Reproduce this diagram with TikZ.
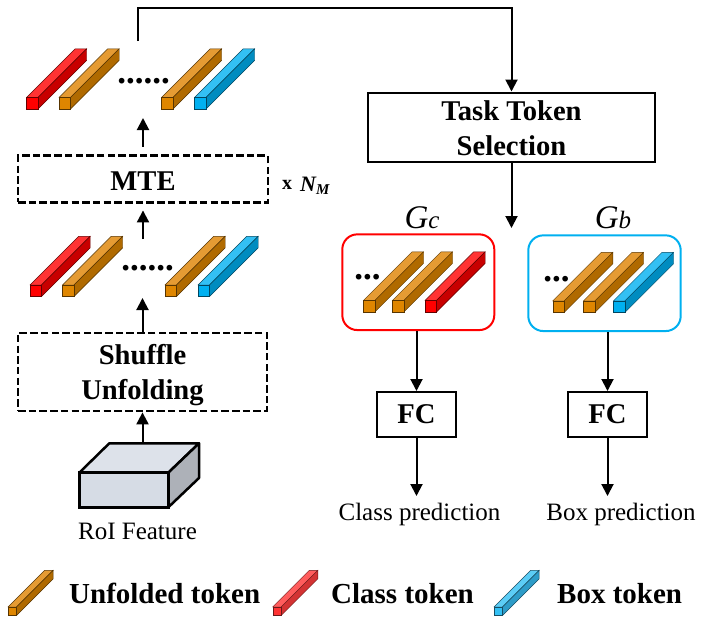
\documentclass[tikz,border=0pt]{standalone}
\usepackage{fontspec}
\setmainfont{Liberation Serif}
\usetikzlibrary{arrows.meta}

\definecolor{orangefront}{HTML}{DF8600}
\definecolor{orangetop}{HTML}{E59B33}
\definecolor{orangeside}{HTML}{B06A00}
\definecolor{redfront}{HTML}{FF0000}
\definecolor{redtop}{HTML}{FF3333}
\definecolor{redside}{HTML}{C80000}
\definecolor{bluefront}{HTML}{00B0F0}
\definecolor{bluetop}{HTML}{33C0F4}
\definecolor{blueside}{HTML}{008CC0}
\definecolor{lredfront}{HTML}{FF3333}
\definecolor{lredtop}{HTML}{FF5C5C}
\definecolor{lredside}{HTML}{D33333}
\definecolor{lbluefront}{HTML}{33C0F4}
\definecolor{lbluetop}{HTML}{5CCDF6}
\definecolor{lblueside}{HTML}{2E9CC8}

\tikzset{
	flow/.style = {black, line width = 2pt, -{Triangle[length = 12pt, width = 12pt]}},
	dashbox/.style = {draw = black, line width = 2.8pt, dash pattern = on 7.5pt off 3.2pt, inner sep = 0pt, align = center, font = \fontsize{28.6}{34.5}\selectfont\bfseries},
	solidbox/.style = {draw = black, line width = 2pt, inner sep = 0pt, align = center, font = \fontsize{28.6}{34.5}\selectfont\bfseries},
	groupbox/.style = {line width = 2pt, rounded corners = 15pt, inner sep = 0pt},
	caption/.style = {inner sep = 0pt, font = \fontsize{25}{28}\selectfont},
	legendtext/.style = {inner sep = 0pt, font = \fontsize{29}{32}\selectfont\bfseries},
	dotstext/.style = {inner sep = 0pt, font = \fontsize{35}{35}\selectfont\bfseries},
}

% #1 x, #2 y of the lower left front corner, #3 front size, #4 depth, #5 colour family
\newcommand{\tokenbar}[5]{
	\draw[#5side!50!black, line width = 0.4pt, fill = #5top] (#1, #2-#3) -- ++(#4, -#4) -- ++(#3, 0) -- ++(-#4, #4) -- cycle;
	\draw[#5side!50!black, line width = 0.4pt, fill = #5side] (#1+#3, #2) -- ++(#4, -#4) -- ++(0, -#3) -- ++(-#4, #4) -- cycle;
	\draw[#5side!50!black, line width = 0.4pt, fill = #5front] (#1, #2) rectangle ++(#3, -#3);
}

\begin{document}
\begin{tikzpicture}[x = 1pt, y = -1pt]
	\useasboundingbox (0, 0) rectangle (707, 621);

	% left column
	\node[dashbox, minimum width = 250pt, minimum height = 46.5pt] (mte) at (143, 179) {\rule{0pt}{23pt}MTE};
	\node[dashbox, minimum width = 249pt, minimum height = 78pt] (shuffle) at (142.5, 372) {\rule{0pt}{26pt}Shuffle\\Unfolding};

	\tokenbar{26.5}{109}{11.5}{48.7}{red}
	\tokenbar{59}{109}{11.5}{48.7}{orange}
	\tokenbar{161.5}{109}{11.5}{48.7}{orange}
	\tokenbar{194.5}{109}{11.5}{48.7}{blue}
	\node[dotstext] (dotstop) at (143.5, 81) {......};

	\tokenbar{30}{296.5}{11.5}{48.7}{red}
	\tokenbar{62.5}{296.5}{11.5}{48.7}{orange}
	\tokenbar{165}{296.5}{11.5}{48.7}{orange}
	\tokenbar{198}{296.5}{11.5}{48.7}{blue}
	\node[dotstext] (dotsmid) at (147.5, 268) {......};

	\node[inner sep = 0pt, font = \fontsize{20}{24}\selectfont\bfseries] (repeat) at (287, 185) {x};
	\node[inner sep = 0pt, font = \fontsize{22}{24}\selectfont\bfseries\itshape] (repeatn) at (315, 186) {N\textsubscript{\fontsize{15}{15}\selectfont M}};

	% RoI cube
	\draw[black, line width = 2.5pt, line join = round, fill = {rgb,255:red,221;green,226;blue,234}] (79.3, 472.7) -- (109.3, 443.3) -- (199, 443.3) -- (168.3, 472.7) -- cycle;
	\draw[black, line width = 2.5pt, line join = round, fill = {rgb,255:red,173;green,177;blue,184}] (168.3, 472.7) -- (199, 443.3) -- (199, 478) -- (168.3, 507.3) -- cycle;
	\draw[black, line width = 2.5pt, fill = {rgb,255:red,214;green,220;blue,229}] (79.3, 472.7) rectangle (168.3, 507.3);
	\coordinate (cubetop) at (142.5, 443.3);
	\node[caption] (roi) at (137.5, 531) {RoI Feature};

	\coordinate (rowtop) at (143, 118);
	\coordinate (rowtail) at (143, 239);
	\coordinate (rowmid) at (142.5, 298);
	\draw[flow, shorten < = 7.7pt] (mte.north) -- (rowtop);
	\draw[flow, shorten > = 6.8pt] (rowtail) -- (mte.south);
	\draw[flow] (shuffle.north) -- (rowmid);
	\draw[flow] (cubetop) -- (shuffle.south);

	% right column
	\node[solidbox, minimum width = 287pt, minimum height = 69pt] (task) at (511.5, 127) {\rule{0pt}{22pt}Task Token\\Selection};
	\coordinate (toptail) at (138, 41);
	\coordinate (topcorner) at (138, 8);
	\draw[flow] (toptail) -- (topcorner) -| (task.north);
	\coordinate (tasktip) at (511.5, 228);
	\draw[flow] (task.south) -- (tasktip);

	\node[groupbox, draw = red, minimum width = 152pt, minimum height = 95.7pt] (gc) at (418.3, 282.2) {};
	\node[groupbox, draw = {rgb,255:red,0;green,176;blue,240}, minimum width = 152.4pt, minimum height = 95.7pt] (gb) at (604.5, 283.2) {};
	\node[inner sep = 0pt, font = \fontsize{33}{33}\selectfont\itshape] (gctext) at (422, 218) {G\fontsize{25}{25}\selectfont c};
	\node[inner sep = 0pt, font = \fontsize{33}{33}\selectfont\itshape] (gbtext) at (613, 218) {G\fontsize{25}{25}\selectfont b};

	\tokenbar{363.3}{312}{11.5}{48.7}{orange}
	\tokenbar{392.3}{312}{11.5}{48.7}{orange}
	\tokenbar{425}{312}{11.5}{48.7}{red}
	\node[dotstext] (dotsgc) at (367.5, 277) {...};
	\tokenbar{552.7}{312.5}{11.5}{48.7}{orange}
	\tokenbar{583.3}{312.5}{11.5}{48.7}{orange}
	\tokenbar{613.3}{312.5}{11.5}{48.7}{blue}
	\node[dotstext] (dotsgb) at (556.5, 279) {...};

	\node[solidbox, minimum width = 79pt, minimum height = 45pt] (fcc) at (416.5, 414.5) {FC};
	\node[solidbox, minimum width = 79pt, minimum height = 45pt] (fcb) at (607.5, 414.5) {FC};
	\draw[flow] (fcc.north |- gc.south) -- (fcc.north);
	\draw[flow] (fcb.north |- gb.south) -- (fcb.north);
	\node[caption] (classpred) at (419.5, 514) {Class prediction};
	\node[caption] (boxpred) at (621, 514) {Box prediction};
	\coordinate (classtip) at (416.5, 496);
	\coordinate (boxtip) at (607.5, 496);
	\draw[flow] (fcc.south) -- (classtip);
	\draw[flow] (fcb.south) -- (boxtip);

	% legend
	\tokenbar{8}{615.5}{8.5}{36.6}{orange}
	\node[legendtext, anchor = west] (legunfold) at (69, 593.5) {Unfolded token};
	\tokenbar{272.7}{615.5}{8.5}{36.6}{lred}
	\node[legendtext, anchor = west] (legclass) at (331, 593.5) {Class token};
	\tokenbar{494}{615.5}{8.5}{36.6}{lblue}
	\node[legendtext, anchor = west] (legbox) at (557, 593.5) {Box token};
\end{tikzpicture}
\end{document}
